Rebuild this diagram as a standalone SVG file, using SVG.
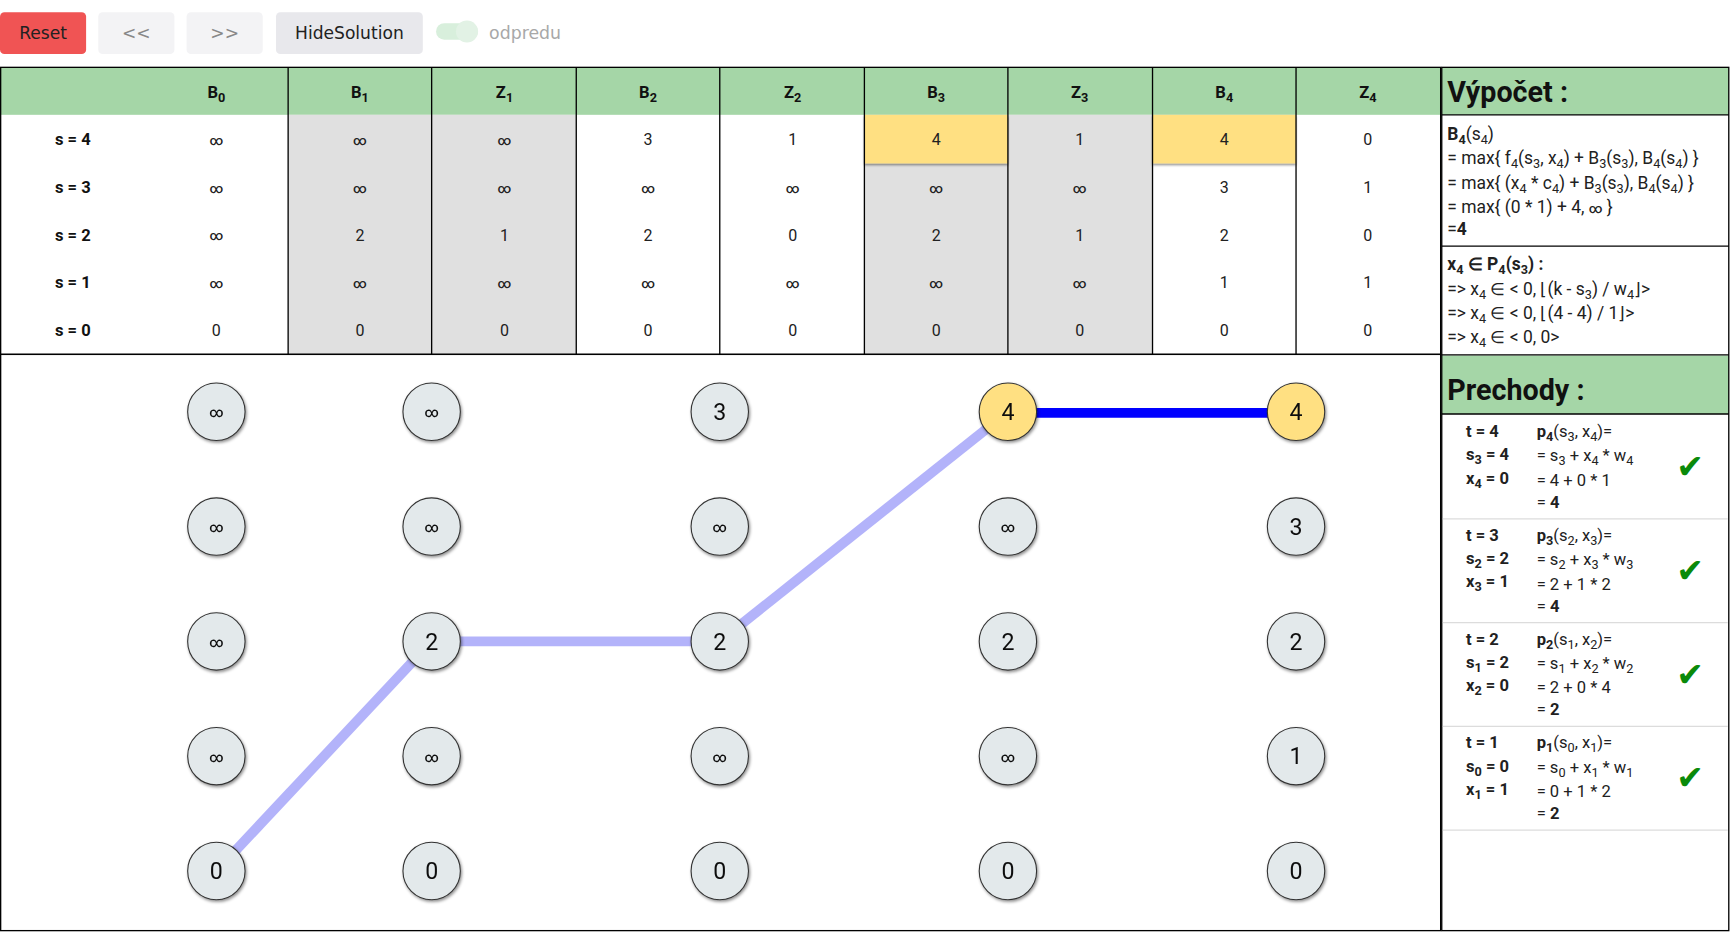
<svg xmlns="http://www.w3.org/2000/svg" width="1731" height="932" viewBox="0 0 1731 932">
<defs>
<filter id="sh" x="-30%" y="-30%" width="160%" height="160%"><feDropShadow dx="1" dy="1.5" stdDeviation="1.3" flood-color="#000" flood-opacity="0.45"/></filter>
<filter id="csh" x="-5%" y="-10%" width="110%" height="130%"><feDropShadow dx="0" dy="1.5" stdDeviation="1.2" flood-color="#000" flood-opacity="0.45"/></filter>
</defs>
<style>
text{font-family:Roboto,"Liberation Sans",sans-serif;fill:#212121}
.btn{font-family:"DejaVu Sans","Noto Sans",sans-serif;font-size:15.5px;text-anchor:middle}
.h{font-size:15px;font-weight:bold;text-anchor:middle;fill:#111}
.v{font-size:14.5px;text-anchor:middle}
.inf{font-size:12px;font-weight:500}
.lab{font-size:15px;font-weight:bold;text-anchor:middle;fill:#111}
.sb{font-size:11.5px;baseline-shift:-3.5px}
.ttl{font-size:26px;font-weight:bold;fill:#111}
.c{font-size:15.8px}
.p{font-size:15px}
.b{font-weight:bold}
.chk{font-family:"DejaVu Sans",sans-serif;font-size:30px;fill:#0a8a0a;text-anchor:middle}
.node circle{fill:#e3e9eb;stroke:#333;stroke-width:1}
.node.y circle{fill:#ffe082}
.node text{font-size:21px;text-anchor:middle;fill:#111}
.node text.ni{font-size:12.5px;font-weight:500}
.gr{fill:#e0e0e0}
.yl{fill:#ffe082}
.grid{stroke:#000;stroke-width:1.2}
</style>
<g transform="scale(1.10395)">
<rect x="0" y="0" width="1568" height="845" fill="#fff"/>
<!-- toolbar -->
<g id="toolbar">
<rect x="0" y="11" width="78" height="38" rx="4" fill="#f05454"/>
<text class="btn" x="39" y="35">Reset</text>
<rect x="89" y="11" width="69" height="38" rx="4" fill="#f3f3f5"/>
<text class="btn" x="123.5" y="35" style="fill:#888">&lt;&lt;</text>
<rect x="169" y="11" width="69" height="38" rx="4" fill="#f3f3f5"/>
<text class="btn" x="203.5" y="35" style="fill:#888">&gt;&gt;</text>
<rect x="250" y="11" width="133" height="38" rx="4" fill="#e8e8ec"/>
<text class="btn" x="316.5" y="35">HideSolution</text>
<rect x="395" y="21" width="38" height="15" rx="7.5" fill="#d8efdc"/>
<circle cx="423" cy="28.5" r="10" fill="#e2f2e5"/>
<text x="443" y="35" style="font-family:'DejaVu Sans','Noto Sans',sans-serif;font-size:15.7px;fill:#a8a8a8">odpredu</text>
</g>
<!-- table -->
<g id="table">
<rect x="0" y="61" width="1305" height="43" fill="#a5d6a7"/>
<rect class="gr" x="261" y="104" width="261" height="217"/>
<rect class="gr" x="783" y="148" width="130" height="173"/>
<rect class="gr" x="913" y="104" width="131" height="217"/>
<rect class="yl" x="783" y="104" width="130" height="44" filter="url(#csh)"/>
<rect class="yl" x="1044" y="104" width="130" height="44" filter="url(#csh)"/>
<rect x="0.6" y="61" width="1304.4" height="260" fill="none" class="grid"/>
<g class="grid">
<line x1="261" y1="61" x2="261" y2="321"/><line x1="391" y1="61" x2="391" y2="321"/>
<line x1="522" y1="61" x2="522" y2="321"/><line x1="652" y1="61" x2="652" y2="321"/>
<line x1="783" y1="61" x2="783" y2="321"/><line x1="913" y1="61" x2="913" y2="321"/>
<line x1="1044" y1="61" x2="1044" y2="321"/><line x1="1174" y1="61" x2="1174" y2="321"/>
</g>
<text class="h" x="196" y="89">B<tspan class="sb">0</tspan></text>
<text class="h" x="326" y="89">B<tspan class="sb">1</tspan></text>
<text class="h" x="457" y="89">Z<tspan class="sb">1</tspan></text>
<text class="h" x="587" y="89">B<tspan class="sb">2</tspan></text>
<text class="h" x="718" y="89">Z<tspan class="sb">2</tspan></text>
<text class="h" x="848" y="89">B<tspan class="sb">3</tspan></text>
<text class="h" x="978" y="89">Z<tspan class="sb">3</tspan></text>
<text class="h" x="1109" y="89">B<tspan class="sb">4</tspan></text>
<text class="h" x="1239" y="89">Z<tspan class="sb">4</tspan></text>
<text class="lab" x="66" y="131">s = 4</text>
<text class="lab" x="66" y="175">s = 3</text>
<text class="lab" x="66" y="218">s = 2</text>
<text class="lab" x="66" y="261">s = 1</text>
<text class="lab" x="66" y="304">s = 0</text>
<g>
<text class="v inf" x="196" y="131">∞</text><text class="v inf" x="196" y="174.5">∞</text><text class="v inf" x="196" y="217.5">∞</text><text class="v inf" x="196" y="260.5">∞</text><text class="v" x="196" y="304">0</text>
<text class="v inf" x="326" y="131">∞</text><text class="v inf" x="326" y="174.5">∞</text><text class="v" x="326" y="218">2</text><text class="v inf" x="326" y="260.5">∞</text><text class="v" x="326" y="304">0</text>
<text class="v inf" x="457" y="131">∞</text><text class="v inf" x="457" y="174.5">∞</text><text class="v" x="457" y="218">1</text><text class="v inf" x="457" y="260.5">∞</text><text class="v" x="457" y="304">0</text>
<text class="v" x="587" y="131">3</text><text class="v inf" x="587" y="174.5">∞</text><text class="v" x="587" y="218">2</text><text class="v inf" x="587" y="260.5">∞</text><text class="v" x="587" y="304">0</text>
<text class="v" x="718" y="131">1</text><text class="v inf" x="718" y="174.5">∞</text><text class="v" x="718" y="218">0</text><text class="v inf" x="718" y="260.5">∞</text><text class="v" x="718" y="304">0</text>
<text class="v" x="848" y="131">4</text><text class="v inf" x="848" y="174.5">∞</text><text class="v" x="848" y="218">2</text><text class="v inf" x="848" y="260.5">∞</text><text class="v" x="848" y="304">0</text>
<text class="v" x="978" y="131">1</text><text class="v inf" x="978" y="174.5">∞</text><text class="v" x="978" y="218">1</text><text class="v inf" x="978" y="260.5">∞</text><text class="v" x="978" y="304">0</text>
<text class="v" x="1109" y="131">4</text><text class="v" x="1109" y="175">3</text><text class="v" x="1109" y="218">2</text><text class="v" x="1109" y="261">1</text><text class="v" x="1109" y="304">0</text>
<text class="v" x="1239" y="131">0</text><text class="v" x="1239" y="175">1</text><text class="v" x="1239" y="218">0</text><text class="v" x="1239" y="261">1</text><text class="v" x="1239" y="304">0</text>
</g>
</g>
<!-- graph panel -->
<rect x="0.6" y="321" width="1304.4" height="522" fill="none" class="grid"/>
<g id="edges" stroke-linecap="butt">
<line x1="196" y1="789" x2="391" y2="581" stroke="#b3b3fa" stroke-width="9"/>
<line x1="391" y1="581" x2="652" y2="581" stroke="#b3b3fa" stroke-width="9"/>
<line x1="652" y1="581" x2="913" y2="373" stroke="#b3b3fa" stroke-width="9"/>
<line x1="913" y1="374" x2="1174" y2="374" stroke="#0000ff" stroke-width="9"/>
</g>
<g id="nodes" filter="url(#sh)">
<g id="n-0-4" class="node"><circle cx="196" cy="373" r="26"/><text class="ni" x="196" y="378">∞</text></g>
<g id="n-0-3" class="node"><circle cx="196" cy="477" r="26"/><text class="ni" x="196" y="482">∞</text></g>
<g id="n-0-2" class="node"><circle cx="196" cy="581" r="26"/><text class="ni" x="196" y="586">∞</text></g>
<g id="n-0-1" class="node"><circle cx="196" cy="685" r="26"/><text class="ni" x="196" y="690">∞</text></g>
<g id="n-0-0" class="node"><circle cx="196" cy="789" r="26"/><text x="196" y="796.5">0</text></g>
<g id="n-1-4" class="node"><circle cx="391" cy="373" r="26"/><text class="ni" x="391" y="378">∞</text></g>
<g id="n-1-3" class="node"><circle cx="391" cy="477" r="26"/><text class="ni" x="391" y="482">∞</text></g>
<g id="n-1-2" class="node"><circle cx="391" cy="581" r="26"/><text x="391" y="588.5">2</text></g>
<g id="n-1-1" class="node"><circle cx="391" cy="685" r="26"/><text class="ni" x="391" y="690">∞</text></g>
<g id="n-1-0" class="node"><circle cx="391" cy="789" r="26"/><text x="391" y="796.5">0</text></g>
<g id="n-2-4" class="node"><circle cx="652" cy="373" r="26"/><text x="652" y="380.5">3</text></g>
<g id="n-2-3" class="node"><circle cx="652" cy="477" r="26"/><text class="ni" x="652" y="482">∞</text></g>
<g id="n-2-2" class="node"><circle cx="652" cy="581" r="26"/><text x="652" y="588.5">2</text></g>
<g id="n-2-1" class="node"><circle cx="652" cy="685" r="26"/><text class="ni" x="652" y="690">∞</text></g>
<g id="n-2-0" class="node"><circle cx="652" cy="789" r="26"/><text x="652" y="796.5">0</text></g>
<g id="n-3-4" class="node y"><circle cx="913" cy="373" r="26"/><text x="913" y="380.5">4</text></g>
<g id="n-3-3" class="node"><circle cx="913" cy="477" r="26"/><text class="ni" x="913" y="482">∞</text></g>
<g id="n-3-2" class="node"><circle cx="913" cy="581" r="26"/><text x="913" y="588.5">2</text></g>
<g id="n-3-1" class="node"><circle cx="913" cy="685" r="26"/><text class="ni" x="913" y="690">∞</text></g>
<g id="n-3-0" class="node"><circle cx="913" cy="789" r="26"/><text x="913" y="796.5">0</text></g>
<g id="n-4-4" class="node y"><circle cx="1174" cy="373" r="26"/><text x="1174" y="380.5">4</text></g>
<g id="n-4-3" class="node"><circle cx="1174" cy="477" r="26"/><text x="1174" y="484.5">3</text></g>
<g id="n-4-2" class="node"><circle cx="1174" cy="581" r="26"/><text x="1174" y="588.5">2</text></g>
<g id="n-4-1" class="node"><circle cx="1174" cy="685" r="26"/><text x="1174" y="692.5">1</text></g>
<g id="n-4-0" class="node"><circle cx="1174" cy="789" r="26"/><text x="1174" y="796.5">0</text></g>
</g>
<!-- right panel -->
<g id="vypocet">
<rect x="1306" y="61" width="260" height="43" fill="#a5d6a7"/>
<rect x="1306" y="322" width="260" height="53" fill="#a5d6a7"/>
<rect x="1306" y="61" width="260" height="782" fill="none" class="grid"/>
<line class="grid" x1="1306" y1="104" x2="1566" y2="104"/>
<line class="grid" x1="1306" y1="223" x2="1566" y2="223"/>
<line class="grid" x1="1306" y1="321.5" x2="1566" y2="321.5"/>
<line class="grid" x1="1306" y1="375" x2="1566" y2="375"/>
<text class="ttl" x="1311" y="92">Výpočet :</text>
<text class="c" x="1311" y="127"><tspan class="b">B<tspan class="sb">4</tspan></tspan>(s<tspan class="sb">4</tspan>)</text>
<text class="c" x="1311" y="149">= max{ f<tspan class="sb">4</tspan>(s<tspan class="sb">3</tspan>, x<tspan class="sb">4</tspan>) + B<tspan class="sb">3</tspan>(s<tspan class="sb">3</tspan>), B<tspan class="sb">4</tspan>(s<tspan class="sb">4</tspan>) }</text>
<text class="c" x="1311" y="171">= max{ (x<tspan class="sb">4</tspan> * c<tspan class="sb">4</tspan>) + B<tspan class="sb">3</tspan>(s<tspan class="sb">3</tspan>), B<tspan class="sb">4</tspan>(s<tspan class="sb">4</tspan>) }</text>
<text class="c" x="1311" y="193">= max{ (0 * 1) + 4, <tspan style="font-size:12px;font-weight:500">∞</tspan> }</text>
<text class="c" x="1311" y="213">=<tspan class="b">4</tspan></text>
<text class="c b" x="1311" y="245">x<tspan class="sb">4</tspan> ∈ P<tspan class="sb">4</tspan>(s<tspan class="sb">3</tspan>) :</text>
<text class="c" x="1311" y="267">=&gt; x<tspan class="sb">4</tspan> ∈ &lt; 0, ⌊(k - s<tspan class="sb">3</tspan>) / w<tspan class="sb">4</tspan>⌋&gt;</text>
<text class="c" x="1311" y="289">=&gt; x<tspan class="sb">4</tspan> ∈ &lt; 0, ⌊(4 - 4) / 1⌋&gt;</text>
<text class="c" x="1311" y="311">=&gt; x<tspan class="sb">4</tspan> ∈ &lt; 0, 0&gt;</text>
<text class="ttl" x="1311" y="362">Prechody :</text>
</g>
<g id="prechody">
<g stroke="#dcdcdc" stroke-width="1.2">
<line x1="1307" y1="470" x2="1565" y2="470"/>
<line x1="1307" y1="564" x2="1565" y2="564"/>
<line x1="1307" y1="658" x2="1565" y2="658"/>
<line x1="1307" y1="752" x2="1565" y2="752"/>
</g>
<g id="t4">
<text class="p b" x="1328" y="396">t = 4</text>
<text class="p b" x="1328" y="417">s<tspan class="sb">3</tspan> = 4</text>
<text class="p b" x="1328" y="438">x<tspan class="sb">4</tspan> = 0</text>
<text class="p" x="1392" y="396"><tspan class="b">p<tspan class="sb">4</tspan></tspan>(s<tspan class="sb">3</tspan>, x<tspan class="sb">4</tspan>)=</text>
<text class="p" x="1392" y="418">= s<tspan class="sb">3</tspan> + x<tspan class="sb">4</tspan> * w<tspan class="sb">4</tspan></text>
<text class="p" x="1392" y="440">= 4 + 0 * 1</text>
<text class="p" x="1392" y="460">= <tspan class="b">4</tspan></text>
<text class="chk" x="1531" y="433">✔</text>
</g>
<g id="t3">
<text class="p b" x="1328" y="490">t = 3</text>
<text class="p b" x="1328" y="511">s<tspan class="sb">2</tspan> = 2</text>
<text class="p b" x="1328" y="532">x<tspan class="sb">3</tspan> = 1</text>
<text class="p" x="1392" y="490"><tspan class="b">p<tspan class="sb">3</tspan></tspan>(s<tspan class="sb">2</tspan>, x<tspan class="sb">3</tspan>)=</text>
<text class="p" x="1392" y="512">= s<tspan class="sb">2</tspan> + x<tspan class="sb">3</tspan> * w<tspan class="sb">3</tspan></text>
<text class="p" x="1392" y="534">= 2 + 1 * 2</text>
<text class="p" x="1392" y="554">= <tspan class="b">4</tspan></text>
<text class="chk" x="1531" y="527">✔</text>
</g>
<g id="t2">
<text class="p b" x="1328" y="584">t = 2</text>
<text class="p b" x="1328" y="605">s<tspan class="sb">1</tspan> = 2</text>
<text class="p b" x="1328" y="626">x<tspan class="sb">2</tspan> = 0</text>
<text class="p" x="1392" y="584"><tspan class="b">p<tspan class="sb">2</tspan></tspan>(s<tspan class="sb">1</tspan>, x<tspan class="sb">2</tspan>)=</text>
<text class="p" x="1392" y="606">= s<tspan class="sb">1</tspan> + x<tspan class="sb">2</tspan> * w<tspan class="sb">2</tspan></text>
<text class="p" x="1392" y="628">= 2 + 0 * 4</text>
<text class="p" x="1392" y="648">= <tspan class="b">2</tspan></text>
<text class="chk" x="1531" y="621">✔</text>
</g>
<g id="t1">
<text class="p b" x="1328" y="678">t = 1</text>
<text class="p b" x="1328" y="699">s<tspan class="sb">0</tspan> = 0</text>
<text class="p b" x="1328" y="720">x<tspan class="sb">1</tspan> = 1</text>
<text class="p" x="1392" y="678"><tspan class="b">p<tspan class="sb">1</tspan></tspan>(s<tspan class="sb">0</tspan>, x<tspan class="sb">1</tspan>)=</text>
<text class="p" x="1392" y="700">= s<tspan class="sb">0</tspan> + x<tspan class="sb">1</tspan> * w<tspan class="sb">1</tspan></text>
<text class="p" x="1392" y="722">= 0 + 1 * 2</text>
<text class="p" x="1392" y="742">= <tspan class="b">2</tspan></text>
<text class="chk" x="1531" y="715">✔</text>
</g>
</g>
</g>
</svg>
